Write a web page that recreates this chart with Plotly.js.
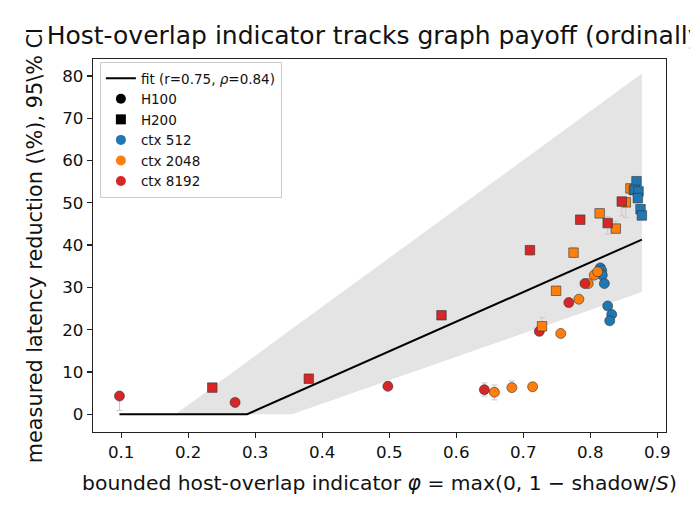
<!DOCTYPE html>
<html>
<head>
<meta charset="utf-8">
<script src="https://cdn.plot.ly/plotly-3.0.1.min.js"></script>
<style>
  html, body { margin: 0; padding: 0; background: #fff; }
  #chart { width: 690px; height: 525px; }
</style>
</head>
<body>
<div id="chart"></div>
<script>
// Piecewise fit (clipped at zero) and its bootstrap band
const fitX = [0.0975, 0.288, 0.877];
const fitY = [0, 0, 41.3];
const bandX = [0.0975, 0.181, 0.355, 0.877];
const bandLow = [0, 0, 0, 28.9];
const bandHigh = [0, 0, 20.2, 80.6];

// H100 runs (circles)
const h100ctx512X = [0.815, 0.817, 0.818, 0.821, 0.826, 0.832, 0.829];
const h100ctx512Y = [34.6, 34.0, 32.9, 30.9, 25.6, 23.6, 22.1];
const h100ctx512Up = [0, 0, 0, 0, 0, 0, 0];
const h100ctx512Dn = [0, 0, 0, 0, 0, 0, 0];

const h100ctx2048X = [0.657, 0.683, 0.714, 0.756, 0.783, 0.797, 0.806, 0.811];
const h100ctx2048Y = [5.2, 6.3, 6.5, 19.1, 27.2, 30.9, 32.9, 33.7];
const h100ctx2048Up = [1.7, 1.6, 0.4, 0, 0, 0, 0, 0];
const h100ctx2048Dn = [1.8, 0.4, 0.3, 0, 0, 0, 0, 0];

const h100ctx8192X = [0.0975, 0.270, 0.498, 0.642, 0.724, 0.768, 0.792];
const h100ctx8192Y = [4.3, 2.8, 6.6, 5.8, 19.6, 26.4, 30.9];
const h100ctx8192Up = [0, 0, 1.0, 1.6, 0, 0, 0];
const h100ctx8192Dn = [3.4, 1.1, 0.3, 1.5, 0, 0, 0];

// H200 runs (squares)
const h200ctx512X = [0.869, 0.866, 0.872, 0.871, 0.875, 0.877];
const h200ctx512Y = [55.1, 53.1, 52.7, 51.1, 48.5, 47.0];
const h200ctx512Up = [0, 0, 0, 0, 0, 0];
const h200ctx512Dn = [0, 0, 0, 0, 0, 0];

const h200ctx2048X = [0.728, 0.749, 0.775, 0.814, 0.838, 0.853, 0.860, 0.865];
const h200ctx2048Y = [20.8, 29.2, 38.2, 47.5, 43.9, 50.1, 53.4, 53.0];
const h200ctx2048Up = [2.1, 0, 1.3, 1.0, 1.8, 0.5, 0, 0];
const h200ctx2048Dn = [0, 0, 0.3, 0, 0.5, 3.6, 0, 0];

const h200ctx8192X = [0.236, 0.380, 0.578, 0.710, 0.785, 0.826, 0.847];
const h200ctx8192Y = [6.3, 8.4, 23.4, 38.8, 46.0, 45.2, 50.3];
const h200ctx8192Up = [0, 0, 0.8, 0.3, 0, 1.5, 0.8];
const h200ctx8192Dn = [0, 0, 0.8, 1.2, 0, 2.6, 3.4];

const ctxColors = {512: '#1f77b4', 2048: '#ff7f0e', 8192: '#d62728'};
const FONT = 'DejaVu Sans, sans-serif';

function runs(x, y, up, dn, symbol, ctx) {
  return {
    x: x, y: y, type: 'scatter', mode: 'markers', showlegend: false,
    hoverinfo: 'x+y',
    marker: {symbol: symbol, size: symbol === 'square' ? 9.5 : 10,
             color: ctxColors[ctx], line: {color: '#333', width: 0.6}},
    error_y: {type: 'data', symmetric: false, array: up, arrayminus: dn,
              color: '#c8c8c8', thickness: 1, width: 3}
  };
}

function legendOnly(name, symbol, color) {
  return {x: [null], y: [null], type: 'scatter', mode: 'markers', name: name,
          marker: {symbol: symbol, size: 10, color: color}};
}

const traces = [
  {x: bandX, y: bandLow, type: 'scatter', mode: 'lines', line: {width: 0},
   showlegend: false, hoverinfo: 'skip'},
  {x: bandX, y: bandHigh, type: 'scatter', mode: 'lines', line: {width: 0},
   fill: 'tonexty', fillcolor: '#e4e4e4', showlegend: false, hoverinfo: 'skip'},
  {x: fitX, y: fitY, type: 'scatter', mode: 'lines', name: 'fit (r=0.75, <i>ρ</i>=0.84)',
   line: {color: '#000', width: 2}},
  legendOnly('H100', 'circle', '#000'),
  legendOnly('H200', 'square', '#000'),
  legendOnly('ctx 512', 'circle', ctxColors[512]),
  legendOnly('ctx 2048', 'circle', ctxColors[2048]),
  legendOnly('ctx 8192', 'circle', ctxColors[8192]),
  runs(h100ctx512X, h100ctx512Y, h100ctx512Up, h100ctx512Dn, 'circle', 512),
  runs(h100ctx2048X, h100ctx2048Y, h100ctx2048Up, h100ctx2048Dn, 'circle', 2048),
  runs(h100ctx8192X, h100ctx8192Y, h100ctx8192Up, h100ctx8192Dn, 'circle', 8192),
  runs(h200ctx2048X, h200ctx2048Y, h200ctx2048Up, h200ctx2048Dn, 'square', 2048),
  runs(h200ctx8192X, h200ctx8192Y, h200ctx8192Up, h200ctx8192Dn, 'square', 8192),
  runs(h200ctx512X, h200ctx512Y, h200ctx512Up, h200ctx512Dn, 'square', 512)
];

const axisCommon = {
  showline: true, mirror: true, linecolor: '#222', linewidth: 1.3,
  ticks: 'outside', ticklen: 5, tickwidth: 1.2, tickcolor: '#222',
  showgrid: false, zeroline: false,
  tickfont: {family: FONT, size: 16.7, color: '#111'}
};

const layout = {
  width: 690, height: 525,
  margin: {l: 93, r: 24, t: 59, b: 93},
  paper_bgcolor: '#fff', plot_bgcolor: '#fff',
  font: {family: FONT, color: '#111'},
  title: {text: 'Host-overlap indicator tracks graph payoff (ordinally)',
          font: {family: FONT, size: 25, color: '#111'},
          x: 0.5, xref: 'paper', xanchor: 'center', y: 0.933, yanchor: 'middle'},
  xaxis: Object.assign({}, axisCommon, {
    range: [0.058, 0.913], tickvals: [0.1, 0.2, 0.3, 0.4, 0.5, 0.6, 0.7, 0.8, 0.9],
    ticktext: ['0.1', '0.2', '0.3', '0.4', '0.5', '0.6', '0.7', '0.8', '0.9'],
    title: {text: 'bounded host-overlap indicator <i>φ</i> = max(0, 1 − shadow/<i>S</i>)',
            font: {family: FONT, size: 20.3, color: '#111'}, standoff: 14}
  }),
  yaxis: Object.assign({}, axisCommon, {
    range: [-4.2, 84], tickvals: [0, 10, 20, 30, 40, 50, 60, 70, 80],
    title: {text: 'measured latency reduction (\\%), 95\\% CI',
            font: {family: FONT, size: 20.8, color: '#111'}, standoff: 13}
  }),
  legend: {x: 0.012, y: 0.992, xanchor: 'left', yanchor: 'top', traceorder: 'normal',
           bgcolor: 'rgba(255,255,255,0.85)', bordercolor: '#cccccc', borderwidth: 1,
           font: {family: FONT, size: 13.5, color: '#111'}, tracegroupgap: 0}
};

Plotly.newPlot('chart', traces, layout, {displayModeBar: false, staticPlot: true});
</script>
</body>
</html>
